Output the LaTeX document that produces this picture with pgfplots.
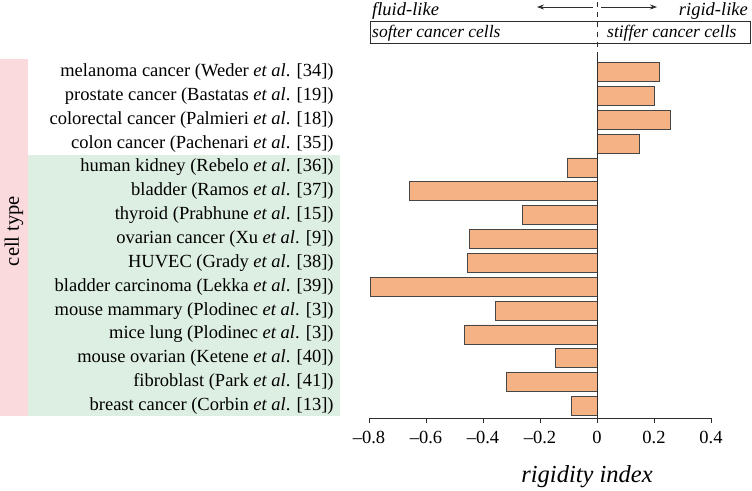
\documentclass[border=0pt]{standalone}
\usepackage{fontspec}
\setmainfont{Liberation Serif}
\usepackage{pgfplots}
\usepackage{pgfplotstable}
\pgfplotsset{compat=1.18}
\usetikzlibrary{arrows.meta}
\definecolor{barfill}{RGB}{245,178,133}
\definecolor{baredge}{RGB}{70,70,70}
\definecolor{greenbg}{RGB}{221,238,226}
\definecolor{pinkbg}{RGB}{251,218,222}
\definecolor{axcol}{RGB}{45,45,45}

\pgfplotstableread{
y val
15 0.220
14 0.203
13 0.256
12 0.148
11 -0.104
10 -0.658
9 -0.263
8 -0.448
7 -0.455
6 -0.794
5 -0.355
4 -0.466
3 -0.147
2 -0.319
1 -0.090
}\rigid

\begin{document}
\fontsize{18.5bp}{22bp}\selectfont
\begin{tikzpicture}
\useasboundingbox (0,0) rectangle (752bp,-491bp);
\fill[pinkbg] (0,-59bp) rectangle (28bp,-416bp);
\fill[greenbg] (28bp,-155bp) rectangle (340bp,-416bp);
\node[rotate=90, font=\fontsize{20.5bp}{24bp}\selectfont] at (14bp,-231bp) {cell type};
\begin{axis}[
  at={(369bp,-418bp)}, anchor=south west,
  scale only axis, width=342bp, height=361bp,
  xmin=-0.8, xmax=0.4, ymin=0.5, ymax=15.63,
  xbar, bar width=19bp,
  axis x line*=bottom, axis y line*=left,
  x axis line style={-, draw=axcol, line width=0.9bp},
  y axis line style={draw=none},
  xtick={-0.8,-0.6,-0.4,-0.2,0,0.2,0.4},
  xticklabels={{–0.8},{–0.6},{–0.4},{–0.2},{0},{0.2},{0.4}},
  tick align=outside, major tick length=5bp,
  xtick style={draw=axcol, line width=0.9bp},
  xticklabel style={yshift=-2bp},
  ytick={1,...,15},
  ytick style={draw=none},
  yticklabels={
    {breast cancer (Corbin \textit{et al}. [13])},
    {fibroblast (Park \textit{et al}. [41])},
    {mouse ovarian (Ketene \textit{et al}. [40])},
    {mice lung (Plodinec \textit{et al}. [3])},
    {mouse mammary (Plodinec \textit{et al}. [3])},
    {bladder carcinoma (Lekka \textit{et al}. [39])},
    {HUVEC (Grady \textit{et al}. [38])},
    {ovarian cancer (Xu \textit{et al}. [9])},
    {thyroid (Prabhune \textit{et al}. [15])},
    {bladder (Ramos \textit{et al}. [37])},
    {human kidney (Rebelo \textit{et al}. [36])},
    {colon cancer (Pachenari \textit{et al}. [35])},
    {colorectal cancer (Palmieri \textit{et al}. [18])},
    {prostate cancer (Bastatas \textit{et al}. [19])},
    {melanoma cancer (Weder \textit{et al}. [34])}},
  yticklabel style={anchor=east, xshift=-24bp},
  ticklabel style={font=\fontsize{18.5bp}{22bp}\selectfont},
]
\addplot[fill=barfill, draw=baredge, line width=0.9bp] table[x=val, y=y] {\rigid};
\draw[axcol, line width=0.9bp] (axis cs:0,0.5) -- (axis cs:0,15.63);
\end{axis}
\draw[axcol, line width=0.8bp, dash pattern=on 5bp off 5bp] (597bp,-57bp) -- (597bp,0bp);
\draw[axcol, line width=0.8bp] (370bp,-21bp) rectangle (750bp,-43bp);
\node[anchor=base west, inner sep=0pt, font=\itshape\fontsize{17.5bp}{21bp}\selectfont] at (372bp,-37bp) {softer cancer cells};
\node[anchor=base west, inner sep=0pt, font=\itshape\fontsize{17.5bp}{21bp}\selectfont] at (607bp,-37bp) {stiffer cancer cells};
\node[anchor=base west, font=\itshape, inner sep=0pt] at (372bp,-15bp) {fluid-like};
\node[anchor=base east, font=\itshape, inner sep=0pt] at (748bp,-15bp) {rigid-like};
\draw[axcol, line width=0.8bp, -{Stealth[length=7bp,width=5bp]}] (593bp,-7bp) -- (537bp,-7bp);
\draw[axcol, line width=0.8bp, -{Stealth[length=7bp,width=5bp]}] (601bp,-7bp) -- (657bp,-7bp);
\node[anchor=base, inner sep=0pt, font=\itshape\fontsize{24.5bp}{28bp}\selectfont] at (587bp,-482bp) {rigidity index};
\end{tikzpicture}
\end{document}
